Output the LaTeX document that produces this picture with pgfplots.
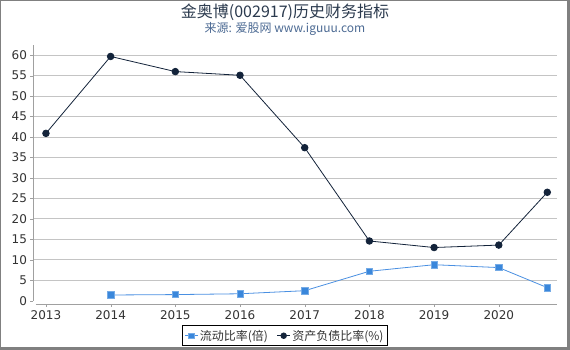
\documentclass[border=0pt]{standalone}
\usepackage{pgfplots}
\pgfplotsset{compat=1.18}
\usepackage{fontspec}
\setmainfont{DejaVu Sans}
\newfontfamily\cjk{Noto Sans CJK SC}
\definecolor{debt}{HTML}{13233A}
\definecolor{cur}{HTML}{3A87DB}
\definecolor{curline}{HTML}{4A90E2}
\definecolor{titlec}{HTML}{2B3A4E}
\definecolor{subc}{HTML}{4D6B94}
\definecolor{gridc}{HTML}{C4C4C4}
\definecolor{axc}{HTML}{A0A0A0}
\definecolor{framec}{HTML}{808080}
\definecolor{tickc}{HTML}{333333}
\begin{document}
\begin{tikzpicture}[x=1pt,y=1pt]
\fill[white] (0,0) rectangle (570,350);
\node[font=\cjk\fontsize{16}{18}\selectfont, text=titlec] at (285,338) {金奥博(002917)历史财务指标};
\node[font=\cjk\fontsize{12}{14}\selectfont, text=subc] at (285,321.5) {来源: 爱股网 www.iguuu.com};
\begin{axis}[
  at={(33pt,46pt)}, anchor=south west,
  scale only axis, width=524pt, height=259pt,
  xmin=2012.8, xmax=2020.9, ymin=-0.8, ymax=62.5,
  axis x line*=bottom, axis y line*=left,
  x axis line style={draw=axc, shorten <=3pt},
  y axis line style={draw=axc, shorten <=3.3pt},
  tick align=outside, major tick length=3pt,
  tick style={draw=axc},
  xtick={2013,2014,2015,2016,2017,2018,2019,2020},
  xticklabels={2013,2014,2015,2016,2017,2018,2019,2020},
  ytick={5,10,...,60},
  extra y ticks={0},
  extra y tick style={grid=none},
  ymajorgrids,
  major grid style={draw=gridc, line width=0.8pt},
  /pgf/number format/assume math mode=true,
  ticklabel style={font=\fontsize{12}{14}\selectfont, text=tickc},
  yticklabel style={xshift=0.5pt},
  legend style={at={(0.481,-0.083)}, anchor=north, legend columns=2,
    draw=black, line width=0.8pt, font=\cjk\fontsize{12}{14}\selectfont, text=tickc,
    inner sep=2pt,
    /tikz/every even column/.append style={column sep=7pt}},
  legend image code/.code={\draw[mark repeat=2,mark phase=2, mark size=2.8pt] plot coordinates {(0cm,0cm) (0.22cm,0cm) (0.44cm,0cm)};},
]
\addplot[color=curline, line width=0.8pt, mark=square*, mark size=3.2pt,
  mark options={fill=cur, draw=cur!70!white, line width=0.6pt}]
  coordinates {(2014,1.4) (2015,1.5) (2016,1.7) (2017,2.45) (2018,7.2) (2019,8.8) (2020,8.1) (2020.75,3.2)};
\addlegendentry{流动比率(倍)}
\addplot[color=debt, line width=0.8pt, mark=*, mark size=3.3pt,
  mark options={fill=debt, draw=debt}]
  coordinates {(2013,40.9) (2014,59.7) (2015,56.0) (2016,55.1) (2017,37.4) (2018,14.6) (2019,13.0) (2020,13.6) (2020.75,26.5)};
\addlegendentry{资产负债比率(\%)}
\end{axis}
\fill[framec] (0,0) rectangle (570,3);
\fill[framec] (567,0) rectangle (570,350);
\fill[framec] (0,349) rectangle (570,350);
\fill[framec] (0,0) rectangle (1,350);
\end{tikzpicture}
\end{document}
